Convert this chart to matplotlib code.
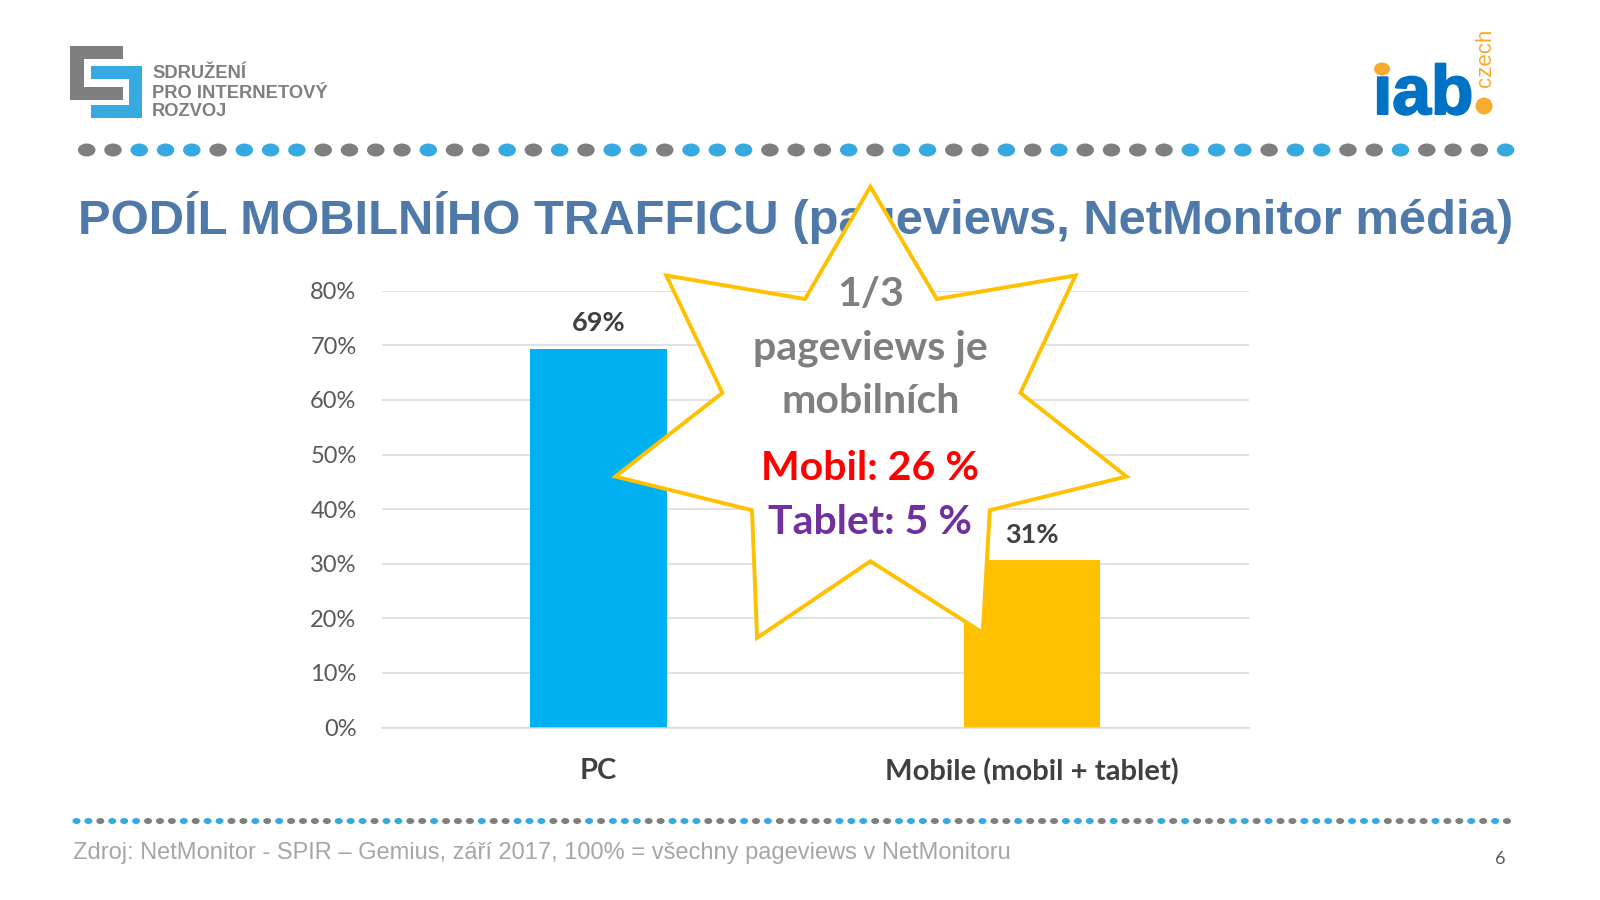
import matplotlib
matplotlib.use("Agg")

import matplotlib.patheffects as pe
import matplotlib.pyplot as plt
from matplotlib.patches import Ellipse, Polygon


# chart data
categories = ["PC", "Mobile (mobil + tablet)"]
shares = [0.694, 0.306]
y_ticks = [0, 0.1, 0.2, 0.3, 0.4, 0.5, 0.6, 0.7, 0.8]
bar_colors = ["#00B0F0", "#FFC000"]

title = "PODÍL MOBILNÍHO TRAFFICU (pageviews, NetMonitor média)"
source = "Zdroj: NetMonitor - SPIR – Gemius, září 2017, 100% = všechny pageviews v NetMonitoru"

# g = grey dot, b = blue dot
top_dots = "ggbbbgbbbggggbggbg" "bgbbgbbbgggbgbbggb" "gbggggbbbgbbggbgggb"
bottom_dots = (
    "bbgbbbgggbgbbggbgbggggbbbgbbggbgggbggbbbgggbgbbbggbbbgggbgbgg"
    "gggbbbggbbbgbggbggbgggbbbgbgggbgbgggbbgbggbbbgbbbggggbggbgbg"
)

W, H = 1600, 900
GREY = "#7F7F7F"
BLUE = "#36A9E1"
ORANGE = "#F9AB2F"
LABEL = "Lato"
ARIAL = "Liberation Sans"


def add_dots(ax, pattern, x0, x1, y, w, h):
    step = (x1 - x0) / (len(pattern) - 1)
    for i, c in enumerate(pattern):
        color = GREY if c == "g" else BLUE
        ax.add_patch(Ellipse((x0 + i * step, y), w, h, facecolor=color, edgecolor="none"))


def add_spir_logo(ax):
    grey = [(70, 46), (123, 46), (123, 59), (84, 59), (84, 87), (123, 87), (123, 100), (70, 100)]
    blue = [(91, 66), (142, 66), (142, 118), (91, 118), (91, 105), (129, 105), (129, 79), (91, 79)]
    ax.add_patch(Polygon(grey, closed=True, facecolor=GREY, edgecolor="none"))
    ax.add_patch(Polygon(blue, closed=True, facecolor=BLUE, edgecolor="none"))
    for y, line in zip([74, 93, 112], ["SDRUŽENÍ", "PRO INTERNETOVÝ", "ROZVOJ"]):
        ax.text(152, y, line, ha="left", va="center", fontsize=13.2,
                family=ARIAL, fontweight="bold", color=GREY)


def add_iab_logo(ax):
    ax.text(1373, 114, "ıab", ha="left", va="baseline", fontsize=50,
            family=ARIAL, fontweight="bold", color="#0072C6",
            path_effects=[pe.withStroke(linewidth=1.5, foreground="#0072C6")])
    ax.add_patch(Ellipse((1382, 69), 16, 13, facecolor=ORANGE, edgecolor="none"))
    ax.add_patch(Ellipse((1484, 106), 17, 17, facecolor=ORANGE, edgecolor="none"))
    ax.text(1485, 87, "czech", ha="center", va="bottom", rotation=90, fontsize=16,
            family=ARIAL, color=ORANGE)


def add_star(ax):
    points = [
        (870.4, 186.7), (936.7, 299), (1075.5, 275.5), (1020.4, 392.9),
        (1126.5, 476.5), (989.8, 510.2), (982.7, 632.7), (870.4, 561.2),
        (757.1, 637.8), (752, 510.2), (615.3, 476.5), (722.4, 392.9),
        (666.3, 275.5), (805, 299),
    ]
    ax.add_patch(Polygon(points, closed=True, facecolor="white", edgecolor="#FFC000",
                         linewidth=2.8, joinstyle="miter", zorder=5))
    cx = 870.4
    for y, line, color in [
        (294, "1/3", GREY),
        (348, "pageviews je", GREY),
        (401.5, "mobilních", GREY),
        (469, "Mobil: 26 %", "#FF0000"),
        (522, "Tablet: 5 %", "#7030A0"),
    ]:
        ax.text(cx, y, line, ha="center", va="center", fontsize=29.5,
                family=LABEL, fontweight="bold", color=color, zorder=6)


def main():
    fig = plt.figure(figsize=(16, 9), dpi=100, facecolor="white")

    # chart, placed in pixel positions of the slide
    left, right, top, bottom = 381.6, 1249, 290.8, 727.5
    chart = fig.add_axes([left / W, 1 - bottom / H, (right - left) / W, (bottom - top) / H], zorder=1)
    xs = range(len(categories))
    chart.set_axisbelow(True)
    bars = chart.bar(xs, shares, width=0.315, color=bar_colors)
    chart.bar_label(bars, labels=[f"{v:.0%}" for v in shares], padding=10, fontsize=19.5,
                    family=LABEL, fontweight="bold", color="#404040")
    chart.set_xlim(-0.5, 1.5)
    chart.set_ylim(0, 0.8)
    chart.set_yticks(y_ticks, [f"{v:.0%}" for v in y_ticks])
    chart.set_xticks(list(xs), categories)
    chart.yaxis.grid(True, color="#D9D9D9", linewidth=1.1)
    for side in ["top", "right", "left"]:
        chart.spines[side].set_visible(False)
    chart.spines["bottom"].set_color("#D9D9D9")
    chart.spines["bottom"].set_linewidth(1.1)
    chart.tick_params(axis="y", length=0, pad=18, labelsize=17, labelcolor="#595959")
    chart.tick_params(axis="x", length=0, pad=22, labelsize=21, labelcolor="#404040")
    for t in chart.get_yticklabels():
        t.set_family(LABEL)
    for t in chart.get_xticklabels():
        t.set_family(LABEL)
        t.set_fontweight("bold")

    # slide furniture on a full size overlay
    ax = fig.add_axes([0, 0, 1, 1], zorder=2)
    ax.set_xlim(0, W)
    ax.set_ylim(H, 0)
    ax.axis("off")

    add_spir_logo(ax)
    add_iab_logo(ax)
    add_dots(ax, top_dots, 86.7, 1505.6, 150, 17.5, 13)
    ax.text(795.5, 217, title, ha="center", va="center", fontsize=35.3,
            family=ARIAL, fontweight="bold", color="#4F79A8")
    add_star(ax)
    add_dots(ax, bottom_dots, 76.5, 1507, 821, 8, 6)
    ax.text(73, 852.5, source, ha="left", va="center", fontsize=17, family=ARIAL, color="#A6A6A6")
    ax.text(1500, 859, "6", ha="center", va="center", fontsize=13, family=LABEL, color="#595959")

    fig.savefig("out.png", dpi=100)
    plt.close(fig)


if __name__ == "__main__":
    main()
